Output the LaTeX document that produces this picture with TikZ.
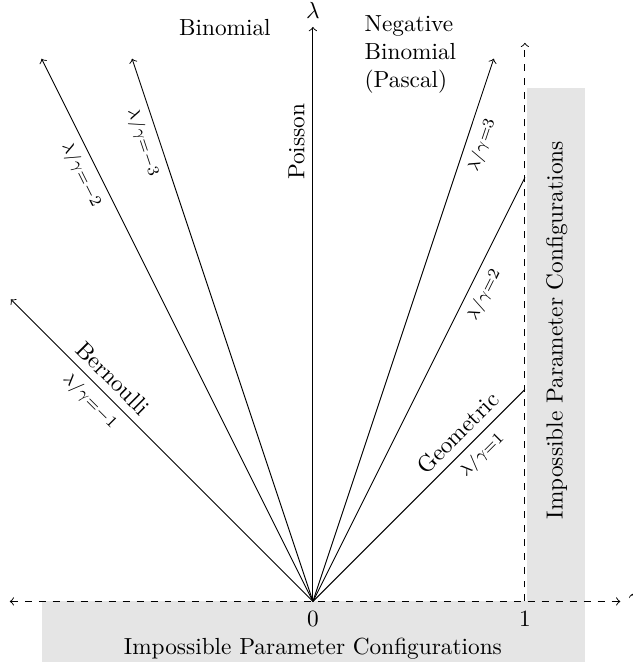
\documentclass[tikz,border=0pt]{standalone}
\usepackage{amsmath, amssymb}
\usepackage{tikz}
\tikzset{
    ratio/.style={font=\scriptsize, sloped},
    impossible/.style={fill=gray!20}}

\begin{document}
\begin{tikzpicture}[x=3.2cm, y=3.2cm]
    \useasboundingbox (-1.476,-0.295) rectangle (1.509,2.837);

                    \fill[impossible] (-1.28,0) rectangle (1.283,-0.285);
                    \fill[impossible] (1.008,0) rectangle (1.283,2.42);

                    \coordinate (O) at (0,0);
                    \coordinate (L) at (-1.43,0);
                    \coordinate (R) at (1.45,0);
                    \coordinate (T) at (0,2.71);
                    \coordinate (E) at (1,0);
                    \coordinate (F) at (1,2.635);
                    \coordinate (P1) at (1,1);
                    \coordinate (P2) at (1,2);
                    \coordinate (P3) at (0.853,2.56);
                    \coordinate (M1) at (-1.425,1.425);
                    \coordinate (M2) at (-1.28,2.56);
                    \coordinate (M3) at (-0.853,2.56);

                    \node (zero) at (0,-0.083) {$0$};
                    \node (one) at (1,-0.083) {$1$};
                    \node[anchor=base] (bottom) at (0,-0.248) {Impossible Parameter Configurations};
                    \node[rotate=90] (right) at (1.15,1.28) {Impossible Parameter Configurations};
                    \node (binom) at (-0.415,2.705) {Binomial};
                    \node[anchor=west, align=left] (negbinom) at (0.205,2.58) {Negative\\Binomial\\(Pascal)};

                    \draw[<->, dashed] (L) -- (R) node[right] {$\gamma$};
                    \draw[->, dashed] (E) -- (F);
                    \draw[->] (O) -- (T) node[above] {$\lambda$} node[pos=0.8, sloped, above] {Poisson};

                    \draw (O) -- (P1) node[pos=0.74, sloped, above] {Geometric} node[ratio, pos=0.745, below] {$\lambda/\gamma{=}1$};
                    \draw (O) -- (P2) node[ratio, pos=0.74, below] {$\lambda/\gamma{=}2$};
                    \draw[->] (O) -- (P3) node[ratio, pos=0.85, below] {$\lambda/\gamma{=}3$};
                    \draw[->] (O) -- (M1) node[pos=0.7, sloped, above] {Bernoulli} node[ratio, pos=0.7, below] {$\lambda/\gamma{=}{-1}$};
                    \draw[->] (O) -- (M2) node[ratio, pos=0.8, below] {$\lambda/\gamma{=}{-2}$};
                    \draw[->] (O) -- (M3) node[ratio, pos=0.855, below] {$\lambda/\gamma{=}{-3}$};

\end{tikzpicture}
\end{document}
